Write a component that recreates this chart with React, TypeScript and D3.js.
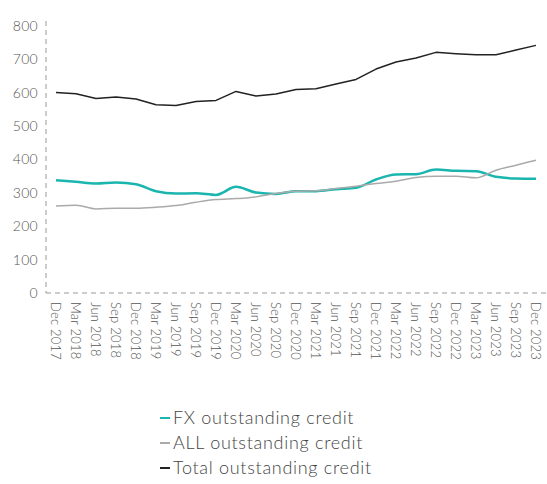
import React from "react";
import * as d3 from "d3";

const categories = [
  "Dec 2017", "Mar 2018", "Jun 2018", "Sep 2018", "Dec 2018", "Mar 2019", "Jun 2019",
  "Sep 2019", "Dec 2019", "Mar 2020", "Jun 2020", "Sep 2020", "Dec 2020", "Mar 2021",
  "Jun 2021", "Sep 2021", "Dec 2021", "Mar 2022", "Jun 2022", "Sep 2022", "Dec 2022",
  "Mar 2023", "Jun 2023", "Sep 2023", "Dec 2023",
];
const fxValues = [338, 333, 328, 331, 326, 305, 298, 299, 294, 318, 301, 297, 305, 305, 311, 315, 340, 355, 356, 370, 366, 365, 348, 343, 342];
const allValues = [261, 263, 252, 254, 254, 257, 262, 272, 280, 283, 288, 298, 305, 306, 313, 320, 328, 335, 346, 350, 350, 345, 368, 383, 398];
const totalValues = [601, 597, 583, 587, 581, 564, 562, 574, 577, 604, 590, 596, 610, 612, 626, 640, 671, 692, 704, 721, 717, 714, 714, 728, 742];
const yTicks = [0, 100, 200, 300, 400, 500, 600, 700, 800];
const seriesNames = ["FX outstanding credit", "ALL outstanding credit", "Total outstanding credit"];

const W = 547;
const H = 484;
const FONT = "Lato, 'Open Sans', sans-serif";
const TEXT = "#555";

export default function App() {
  const x = d3.scalePoint<string>().domain(categories).range([56, 536]);
  const y = d3.scaleLinear().domain([0, 800]).range([293, 26]);

  const smooth = d3.line<number>()
    .x((_, i) => x(categories[i]) as number)
    .y((d) => y(d))
    .curve(d3.curveMonotoneX);
  const straight = d3.line<number>()
    .x((_, i) => x(categories[i]) as number)
    .y((d) => y(d));

  const series = [
    { name: seriesNames[0], values: fxValues, color: "#1ab5ae", width: 2.5, path: smooth },
    { name: seriesNames[1], values: allValues, color: "#aaaaaa", width: 1.5, path: smooth },
    { name: seriesNames[2], values: totalValues, color: "#222222", width: 1.5, path: straight },
  ];

  return (
    <svg width={W} height={H} style={{ position: "absolute", left: 0, top: 0 }} fontFamily={FONT} fontWeight={300}>
      <rect width={W} height={H} fill="#fff" />
      <line x1={46} x2={46} y1={y(800) - 5} y2={y(0)} stroke="#999" strokeWidth={1} strokeDasharray="5,4" />
      <line x1={46} x2={W} y1={y(0)} y2={y(0)} stroke="#999" strokeWidth={1} strokeDasharray="5,4" />
      {yTicks.map((t) => (
        <text key={t} x={38} y={y(t)} dy="0.35em" textAnchor="end" fontSize={14} fill={TEXT} letterSpacing={0.3}>
          {t}
        </text>
      ))}
      {categories.map((c) => (
        <text
          key={c}
          transform={`translate(${x(c)},${302}) rotate(90)`}
          dy="0.35em"
          textAnchor="start"
          fontSize={13}
          fill={TEXT}
          letterSpacing={0.2}
        >
          {c}
        </text>
      ))}
      {series.map((s) => (
        <path key={s.name} d={s.path(s.values) || ""} fill="none" stroke={s.color} strokeWidth={s.width} strokeLinejoin="round" />
      ))}
      {series.map((s, i) => (
        <g key={s.name} transform={`translate(160,${418 + i * 25})`}>
          <line x1={0} x2={10} y1={0} y2={0} stroke={s.color} strokeWidth={2} />
          <text x={13} y={0} dy="0.35em" fontSize={18} fill="#444" letterSpacing={0.7}>
            {s.name}
          </text>
        </g>
      ))}
    </svg>
  );
}
